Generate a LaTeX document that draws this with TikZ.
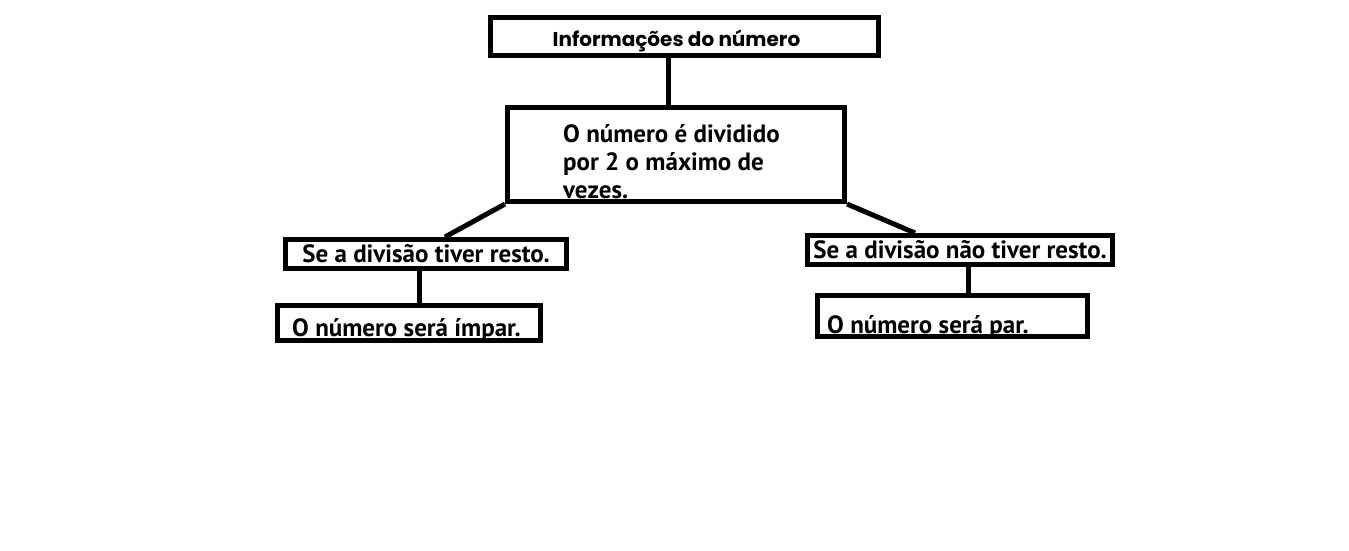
\documentclass[tikz,border=0pt]{standalone}
\usepackage{fontspec}
\setmainfont{PT Sans}
\newfontfamily\titulofonte{Poppins}

\begin{document}
\begin{tikzpicture}[
    x=1pt, y=-1pt,
    caixa/.style={rectangle, draw=black, line width=5pt, inner sep=0pt, font=\bfseries\fontsize{25}{28}\selectfont},
    texto/.style={inner sep=0pt, align=left, font=\bfseries\fontsize{25}{28}\selectfont},
    liga/.style={draw=black, line width=5pt}
]
    \useasboundingbox (0,0) rectangle (1349,551);

    \node[caixa, minimum width=388pt, minimum height=38pt] (info) at (684,36.5) {};
    \node[texto, font=\titulofonte\bfseries\fontsize{20}{24}\selectfont, anchor=base] (infotxt) at (676.5,47) {Informações do número};

    \node[caixa, minimum width=337pt, minimum height=94pt] (div) at (676,154.5) {};
    \node[texto, anchor=base west] (divtxt) at (563,198) {O número é dividido\\por 2 o máximo de\\vezes.};

    \node[caixa, minimum width=281pt, minimum height=29pt] (resto) at (426,254) {Se a divisão tiver resto.};
    \node[caixa, minimum width=263pt, minimum height=35pt] (impar) at (409,323) {};
    \node[texto, anchor=base west] (impartxt) at (292,336) {O número será ímpar.};

    \node[caixa, minimum width=305pt, minimum height=29pt] (semresto) at (960,250) {Se a divisão não tiver resto.};
    \node[caixa, minimum width=270pt, minimum height=41pt] (par) at (952.5,316) {};
    \node[texto, anchor=base west] (partxt) at (827,333) {O número será par.};

    \draw[liga] ([xshift=-16pt]info.south) -- ([xshift=-16pt]info.south |- div.north);
    \draw[liga] (div.south west) -- ([xshift=19pt]resto.north);
    \draw[liga] ([xshift=-7pt]resto.south) -- ([xshift=-7pt]resto.south |- impar.north);
    \draw[liga] (div.south east) -- ([xshift=-45pt]semresto.north);
    \draw[liga] ([xshift=8pt]semresto.south) -- ([xshift=8pt]semresto.south |- par.north);
\end{tikzpicture}
\end{document}
